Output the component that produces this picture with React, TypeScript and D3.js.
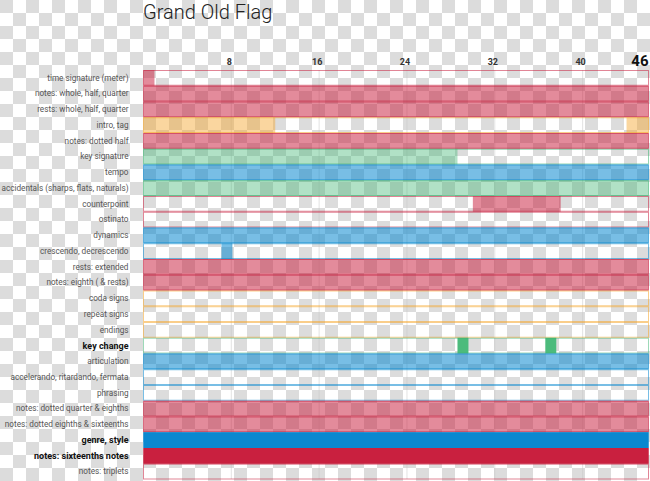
import React from "react";
import * as d3 from "d3";

const title = "Grand Old Flag";
const totalMeasures = 46;
const tickValues = [8, 16, 24, 32, 40];
const lastTick = 46;

const rowLabels = [
  "time signature (meter)",
  "notes: whole, half, quarter",
  "rests: whole, half, quarter",
  "intro, tag",
  "notes: dotted half",
  "key signature",
  "tempo",
  "accidentals (sharps, flats, naturals)",
  "counterpoint",
  "ostinato",
  "dynamics",
  "crescendo, decrescendo",
  "rests: extended",
  "notes: eighth ( & rests)",
  "coda signs",
  "repeat signs",
  "endings",
  "key change",
  "articulation",
  "accelerando, ritardando, fermata",
  "phrasing",
  "notes: dotted quarter & eighths",
  "notes: dotted eighths & sixteenths",
  "genre, style",
  "notes: sixteenths notes",
  "notes: triplets",
];

// category of each row: p = pink (notes/rests), o = orange (form), g = green (key), b = blue (expression)
const rowGroups = [
  "p", "p", "p", "o", "p", "g", "b", "g", "p", "p", "b", "b", "p",
  "p", "o", "o", "o", "g", "b", "b", "b", "p", "p", "b", "p", "p",
];

// highlighted (solid) rows
const boldRows = ["key change", "genre, style", "notes: sixteenths notes"];

// segments [start measure, end measure] for each row
const rowSegments: [number, number][][] = [
  [[0, 1]],
  [[0, 46]],
  [[0, 46]],
  [[0, 12], [44, 46]],
  [[0, 46]],
  [[0, 28.6]],
  [[0, 46]],
  [[0, 46]],
  [[30, 38]],
  [],
  [[0, 46]],
  [[7.1, 8.1]],
  [[0, 46]],
  [[0, 46]],
  [],
  [],
  [],
  [[28.6, 29.6], [36.6, 37.6]],
  [[0, 46]],
  [],
  [],
  [[0, 46]],
  [[0, 46]],
  [[0, 46]],
  [[0, 46]],
  [],
];

const groupColor: Record<string, string> = {
  p: "#c9203f",
  o: "#f5a52a",
  g: "#3cb371",
  b: "#0a88d0",
};
const groupAlpha: Record<string, number> = { p: 0.52, o: 0.45, g: 0.4, b: 0.55 };

const W = 650;
const H = 481;

export default function App() {
  const x = d3.scaleLinear().domain([0, totalMeasures]).range([143.5, 648.5]);
  const y = d3
    .scaleBand<string>()
    .domain(rowLabels)
    .range([70, 70 + 26 * 15.75])
    .padding(0);
  const bh = y.bandwidth();
  const font = "Roboto, 'Liberation Sans', Arial, sans-serif";

  return (
    <svg
      width={W}
      height={H}
      style={{ position: "absolute", left: 0, top: 0 }}
      fontFamily={font}
    >
      <defs>
        <pattern id="checker" x={0} y={0} width={26} height={26} patternUnits="userSpaceOnUse">
          <rect width={26} height={26} fill="#ffffff" />
          <rect x={0} y={0} width={13} height={13} fill="#dcdcdc" />
          <rect x={13} y={13} width={13} height={13} fill="#dcdcdc" />
        </pattern>
      </defs>
      <rect width={W} height={H} fill="url(#checker)" />

      <text x={143} y={19} fontSize={20} fontWeight={300} fill="#222">
        {title}
      </text>

      {tickValues.map((t) => (
        <g key={t}>
          <line x1={x(t)} x2={x(t)} y1={70} y2={479} stroke="#c8c8c8" strokeOpacity={0.5} />
          <text x={x(t) - 2} y={65} fontSize={9} fontWeight={700} textAnchor="middle" fill="#333">
            {t}
          </text>
        </g>
      ))}
      <text x={x(lastTick)} y={66} fontSize={15} fontWeight={700} textAnchor="end" fill="#111">
        {lastTick}
      </text>

      {rowLabels.map((lab, i) => {
        const g = rowGroups[i];
        const col = groupColor[g];
        const bold = boldRows.includes(lab);
        const y0 = y(lab)!;
        return (
          <g key={lab}>
            {rowSegments[i].map(([s, e], j) => (
              <rect
                key={j}
                x={x(s)}
                y={y0}
                width={x(e) - x(s)}
                height={bh}
                fill={lab === "key change" ? "#4cbb7c" : col}
                fillOpacity={bold ? 1 : groupAlpha[g]}
              />
            ))}
            <rect
              x={x(0)}
              y={y0 + 0.5}
              width={x(totalMeasures) - x(0)}
              height={bh - 1}
              fill="none"
              stroke={col}
              strokeOpacity={bold ? 0.5 : 0.55}
              strokeWidth={1}
            />
            <text
              x={128.5}
              y={y0 + bh / 2}
              dy="0.35em"
              textAnchor="end"
              fontSize={bold ? 9 : 8.2}
              fontWeight={bold ? 700 : 400}
              fill={bold ? "#111" : "#555"}
            >
              {lab}
            </text>
          </g>
        );
      })}
    </svg>
  );
}
